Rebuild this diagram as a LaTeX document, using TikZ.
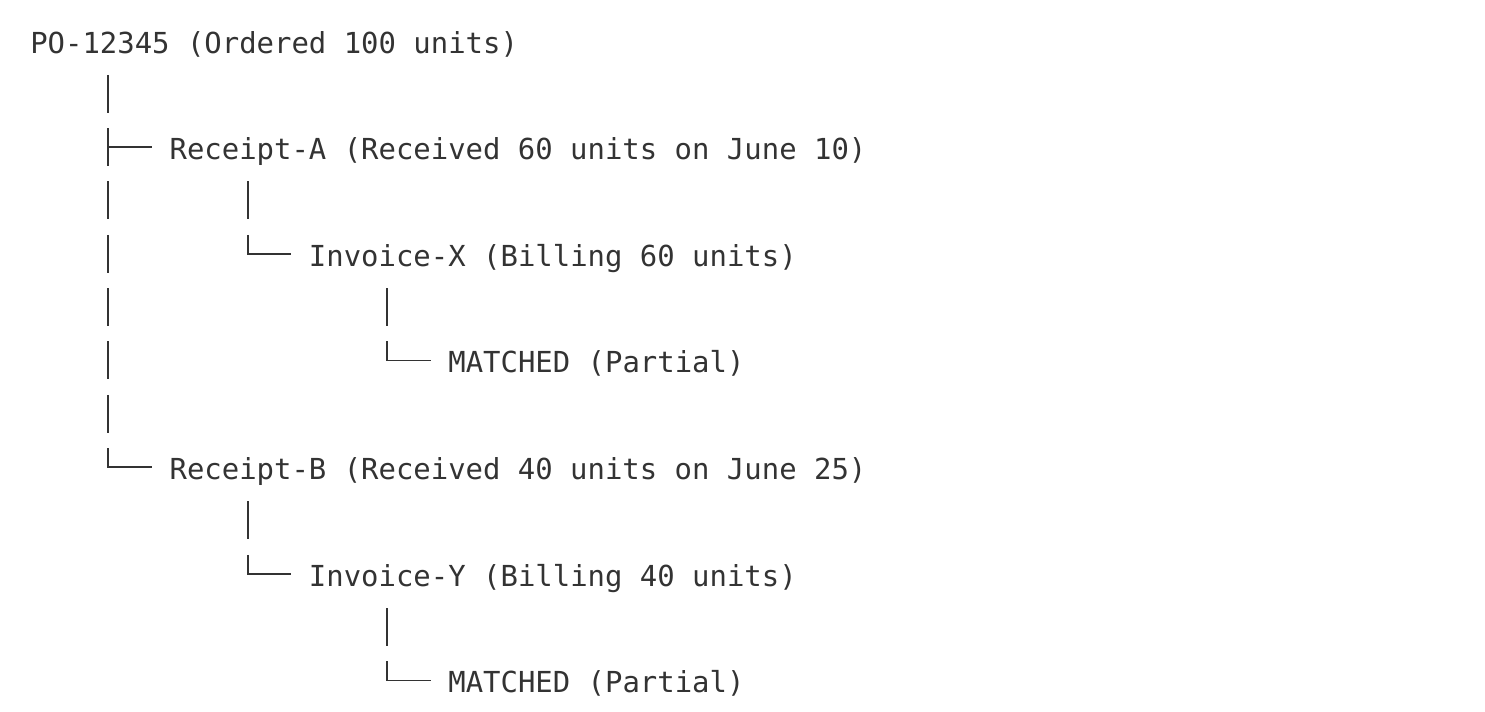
\documentclass[tikz,border=0pt]{standalone}
\usepackage{fontspec}
\newfontfamily\treefont{DejaVu Sans Mono}
\definecolor{ink}{HTML}{333333}
\begin{document}
\begin{tikzpicture}[x=0.75pt,y=-0.75pt,
  treelabel/.style={anchor=base west, inner sep=0pt, text=ink,
    font=\treefont\fontsize{21.7pt}{26pt}\selectfont},
  treeline/.style={draw=ink, line width=1.45pt}]
\useasboundingbox (0,0) rectangle (1485,711);
% text rows: column c starts at 30+17.42c, row r baseline at 53+53.33r
\node[treelabel] (po) at (30,53) {PO-12345 (Ordered 100 units)};
\node[treelabel] (ra) at (169.36,159.66) {Receipt-A (Received 60 units on June 10)};
\node[treelabel] (ix) at (308.72,266.32) {Invoice-X (Billing 60 units)};
\node[treelabel] (mx) at (448.08,372.98) {MATCHED (Partial)};
\node[treelabel] (rb) at (169.36,479.64) {Receipt-B (Received 40 units on June 25)};
\node[treelabel] (iy) at (308.72,586.3) {Invoice-Y (Billing 40 units)};
\node[treelabel] (my) at (448.08,692.96) {MATCHED (Partial)};
% vertical bar glyphs
\foreach \c/\r in {4/1,4/3,4/4,4/5,4/6,4/7,12/3,12/9,20/5,20/11}
  \draw[treeline] ({38.71+17.42*\c},{53+53.33*\r-31.5}) -- ++(0,38);
% corner glyphs leading to children
\foreach \c/\r/\nm in {4/8/rb,12/4/ix,12/10/iy,20/6/mx,20/12/my}
  \draw[treeline] ({38.71+17.42*\c},{53+53.33*\r-31.5}) |- ([xshift=-13.065pt,yshift=9.375pt]\nm.base west);
% tee glyph leading to Receipt-A
\draw[treeline] ({38.71+17.42*4},{53+53.33*2-31.5}) -- ++(0,38);
\draw[treeline] ({38.71+17.42*4},{53+53.33*2-12.5}) -- ([xshift=-13.065pt,yshift=9.375pt]ra.base west);
\end{tikzpicture}
\end{document}
